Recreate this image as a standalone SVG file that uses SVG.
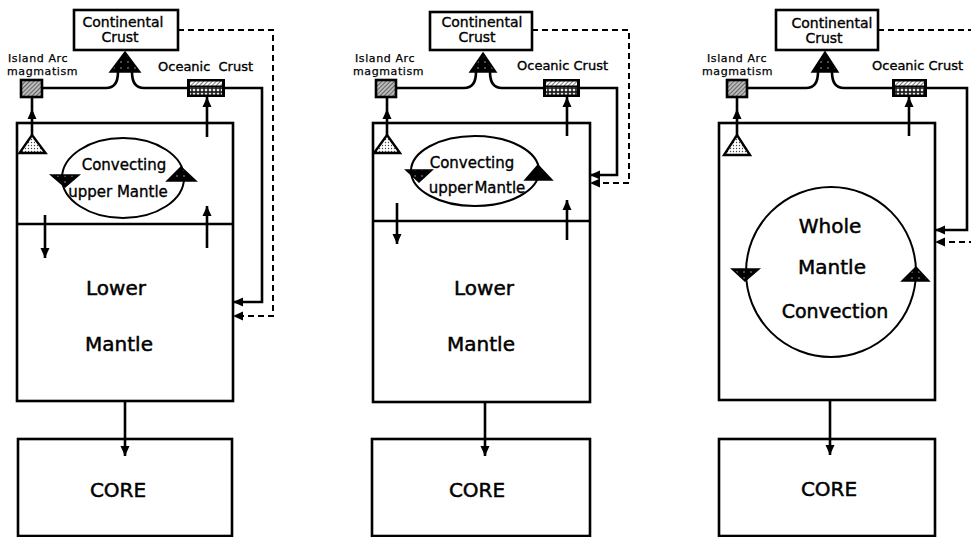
<svg xmlns="http://www.w3.org/2000/svg" width="971" height="537" viewBox="0 0 971 537">
<defs>
<style>
.box{fill:#fff;stroke:#000;stroke-width:2.6}
.thin{fill:none;stroke:#000;stroke-width:2}
.ln{fill:none;stroke:#000;stroke-width:2.6}
.dash{fill:none;stroke:#000;stroke-width:2;stroke-dasharray:6 4}
.t{font-family:"DejaVu Sans","Liberation Sans",sans-serif;fill:#000;stroke:#000;stroke-width:0.35;text-anchor:middle}
.s{font-size:11px;letter-spacing:0.6px;text-anchor:start;stroke-width:0.25}
.m{font-size:14px}
.c{font-size:15px}
.l{font-size:20px;stroke-width:0.5}
.dark{fill:url(#speck);stroke:#000;stroke-width:1.5}
.stip{fill:url(#dots);stroke:#000;stroke-width:2.4}
</style>
<marker id="ah" markerUnits="userSpaceOnUse" markerWidth="10" markerHeight="10" viewBox="0 0 10 10" refX="10" refY="5" orient="auto">
<path d="M0,0.5 L10,5 L0,9.5 z" fill="#000"/>
</marker>
<pattern id="hatch" patternUnits="userSpaceOnUse" width="3" height="3" patternTransform="rotate(45)">
<rect width="3" height="3" fill="#bbb"/>
<line x1="0" y1="0" x2="0" y2="3" stroke="#333" stroke-width="1.3"/>
</pattern>
<pattern id="hatch2" patternUnits="userSpaceOnUse" width="3" height="3" patternTransform="rotate(45)">
<rect width="3" height="3" fill="#fff"/>
<line x1="0" y1="0" x2="0" y2="3" stroke="#222" stroke-width="1.2"/>
</pattern>
<pattern id="circ" patternUnits="userSpaceOnUse" width="4" height="4">
<rect width="4" height="4" fill="#222"/>
<circle cx="2" cy="2" r="1.3" fill="#eee"/>
</pattern>
<pattern id="dots" patternUnits="userSpaceOnUse" width="3" height="3">
<rect width="3" height="3" fill="#fff"/>
<circle cx="1.5" cy="1.5" r="0.7" fill="#444"/>
</pattern>
<pattern id="speck" patternUnits="userSpaceOnUse" width="7" height="6">
<rect width="7" height="6" fill="#000"/>
<circle cx="2" cy="2" r="0.7" fill="#ccc"/>
</pattern>
</defs>
<rect width="971" height="537" fill="#fff"/>

<!-- ================= PANEL 1 ================= -->
<g id="p1-continental">
<rect class="box" x="74" y="10" width="104" height="40"/>
<text class="t m" x="123" y="27">Continental</text>
<text class="t m" x="120" y="42">Crust</text>
</g>
<g id="p1-islandarc">
<text class="t s" x="8" y="62">Island Arc</text>
<text class="t s" x="7" y="75">magmatism</text>
<rect x="21" y="80" width="21" height="17" fill="url(#hatch)" stroke="#000" stroke-width="2.6"/>
</g>
<g id="p1-oceanic">
<text class="t" x="158" y="71" style="font-size:13px;text-anchor:start;word-spacing:4px">Oceanic Crust</text>
<rect x="187" y="79" width="38" height="18" fill="#000"/>
<rect x="190" y="81.5" width="32" height="4" fill="url(#hatch2)"/>
<rect x="190" y="87" width="32" height="7.5" fill="url(#circ)"/>
</g>
<g id="p1-mantle">
<rect class="box" x="17" y="123" width="216" height="278"/>
<line class="ln" x1="17" y1="224" x2="233" y2="224"/>
<ellipse class="thin" cx="123" cy="178" rx="61" ry="40"/>
<text class="t c" x="124" y="170">Convecting</text>
<text class="t c" x="118" y="197">upper Mantle</text>
<path class="dark" d="M51,175 L79,175 L65,187 z"/>
<path class="dark" d="M167,181 L196,181 L181,167 z"/>
<path class="stip" d="M32,135 L45.5,153 L19.5,153 z"/>
<text class="t l" x="116" y="295">Lower</text>
<text class="t l" x="119" y="351">Mantle</text>
</g>
<g id="p1-core">
<rect class="box" x="18" y="439" width="214" height="97"/>
<text class="t l" x="118" y="497">CORE</text>
</g>

<!-- ================= PANEL 2 ================= -->
<g id="p2-continental">
<rect class="box" x="430" y="12" width="102" height="38"/>
<text class="t m" x="482" y="27">Continental</text>
<text class="t m" x="477" y="42">Crust</text>
</g>
<g id="p2-islandarc">
<text class="t s" x="355" y="62">Island Arc</text>
<text class="t s" x="353" y="75">magmatism</text>
<rect x="376" y="80" width="20" height="17" fill="url(#hatch)" stroke="#000" stroke-width="2.6"/>
</g>
<g id="p2-oceanic">
<text class="t" x="517" y="70" style="font-size:13px;text-anchor:start">Oceanic Crust</text>
<rect x="543" y="79" width="37" height="18" fill="#000"/>
<rect x="546" y="81.5" width="31" height="4" fill="url(#hatch2)"/>
<rect x="546" y="87" width="31" height="7.5" fill="url(#circ)"/>
</g>
<g id="p2-mantle">
<rect class="box" x="373" y="123" width="217" height="279"/>
<line class="ln" x1="373" y1="221" x2="590" y2="221"/>
<ellipse class="thin" cx="475" cy="171" rx="64" ry="35"/>
<text class="t c" x="472" y="168">Convecting</text>
<text class="t c" x="477" y="193" style="word-spacing:-3px">upper Mantle</text>
<path class="dark" d="M406,170 L432,170 L419,182 z"/>
<path fill="#000" stroke="#000" stroke-width="1.5" d="M525,180 L552,180 L538,165 z"/>
<path class="stip" d="M387,135 L400,153 L374,153 z"/>
<text class="t l" x="484" y="295">Lower</text>
<text class="t l" x="481" y="351">Mantle</text>
</g>
<g id="p2-core">
<rect class="box" x="372" y="439" width="218" height="97"/>
<text class="t l" x="477" y="497">CORE</text>
</g>

<!-- ================= PANEL 3 ================= -->
<g id="p3-continental">
<rect class="box" x="776" y="10" width="102" height="40"/>
<text class="t m" x="832" y="28">Continental</text>
<text class="t m" x="824" y="43">Crust</text>
</g>
<g id="p3-islandarc">
<text class="t s" x="707" y="62">Island Arc</text>
<text class="t s" x="702" y="75">magmatism</text>
<rect x="727" y="80" width="20" height="17" fill="url(#hatch)" stroke="#000" stroke-width="2.6"/>
</g>
<g id="p3-oceanic">
<text class="t" x="872" y="70" style="font-size:13px;text-anchor:start">Oceanic Crust</text>
<rect x="892" y="79" width="35" height="18" fill="#000"/>
<rect x="895" y="81.5" width="29" height="4" fill="url(#hatch2)"/>
<rect x="895" y="87" width="29" height="7.5" fill="url(#circ)"/>
</g>
<g id="p3-mantle">
<rect class="box" x="719" y="123" width="216" height="277"/>
<circle class="thin" cx="831" cy="272" r="85"/>
<text class="t l" x="830" y="233">Whole</text>
<text class="t l" x="832" y="274">Mantle</text>
<text class="t l" x="835" y="318" style="font-size:19px">Convection</text>
<path class="dark" d="M732,269 L759,269 L745,281 z"/>
<path class="dark" d="M902,281 L929,281 L916,267 z"/>
<path class="stip" d="M737,135 L750,155 L724,155 z"/>
</g>
<g id="p3-core">
<rect class="box" x="719" y="439" width="216" height="97"/>
<text class="t l" x="829" y="496">CORE</text>
</g>

<!-- ================= CONNECTORS ================= -->
<g id="connectors">
<!-- panel 1 -->
<path class="ln" d="M43,88 H106 Q118,88 118,72"/>
<path class="ln" d="M132,72 Q132,88 144,88 H187"/>
<path class="dark" d="M125,52 L140,72 L110,72 z"/>
<path class="ln" d="M32,135 V109 V97" marker-mid="url(#ah)"/>
<path class="ln" d="M207,137 V97" marker-end="url(#ah)"/>
<path class="ln" d="M225,88 H262 V302 H233" marker-end="url(#ah)"/>
<path class="dash" d="M178,30 H273 V316 H233" marker-end="url(#ah)"/>
<path class="ln" d="M45,215 V258" marker-end="url(#ah)"/>
<path class="ln" d="M207,248 V206" marker-end="url(#ah)"/>
<path class="ln" d="M125,401 V456" marker-end="url(#ah)"/>
<!-- panel 2 -->
<path class="ln" d="M396,88 H464 Q476,88 476,72"/>
<path class="ln" d="M490,72 Q490,88 502,88 H543"/>
<path class="dark" d="M483,53 L496,72 L470,72 z"/>
<path class="ln" d="M387,135 V109 V97" marker-mid="url(#ah)"/>
<path class="ln" d="M567,136 V97" marker-end="url(#ah)"/>
<path class="ln" d="M580,88 H617 V175 H590" marker-end="url(#ah)"/>
<path class="dash" d="M532,30 H629 V183 H590" marker-end="url(#ah)"/>
<path class="ln" d="M397,203 V244" marker-end="url(#ah)"/>
<path class="ln" d="M567,240 V200" marker-end="url(#ah)"/>
<path class="ln" d="M485,402 V456" marker-end="url(#ah)"/>
<!-- panel 3 -->
<path class="ln" d="M747,88 H806 Q818,88 818,72"/>
<path class="ln" d="M832,72 Q832,88 844,88 H892"/>
<path class="dark" d="M825,52 L838,72 L812,72 z"/>
<path class="ln" d="M737,135 V109 V97" marker-mid="url(#ah)"/>
<path class="ln" d="M909,136 V97" marker-end="url(#ah)"/>
<path class="ln" d="M927,88 H967 V230 H935" marker-end="url(#ah)"/>
<path class="dash" d="M878,30 H975"/>
<path class="dash" d="M975,242 H935" marker-end="url(#ah)"/>
<path class="ln" d="M830,400 V455" marker-end="url(#ah)"/>
</g>
</svg>
